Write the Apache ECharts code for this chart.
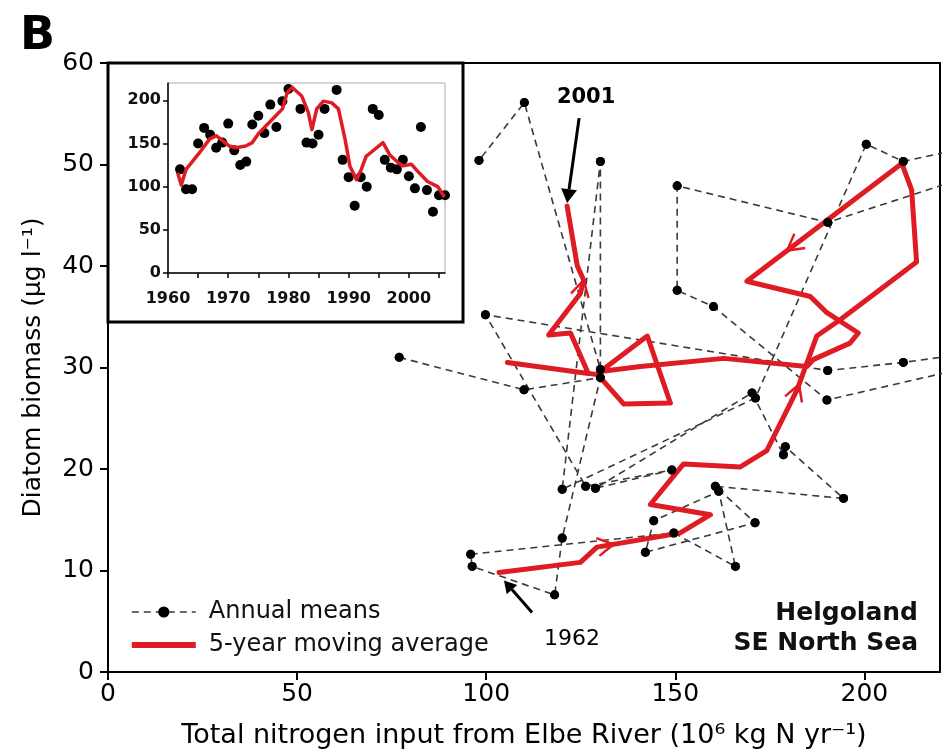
<!DOCTYPE html>
<html>
<head>
<meta charset="utf-8">
<script src="https://cdn.jsdelivr.net/npm/echarts@6/dist/echarts.min.js"></script>
<style>
html,body{margin:0;padding:0;background:#fff;}
#c{width:942px;height:754px;}
</style>
</head>
<body>
<div id="c"></div>
<script>
// ---- tick values ----
const xTicks = [0, 50, 100, 150, 200];
const yTicks = [0, 10, 20, 30, 40, 50, 60];
const insetXTicks = [1960, 1965, 1970, 1975, 1980, 1985, 1990, 1995, 2000, 2005];
const insetXLabels = [1960, 1970, 1980, 1990, 2000];
const insetYTicks = [0, 50, 100, 150, 200];

// ---- main panel: annual means (path order), N input vs diatom biomass ----
const annualN = [77.0, 110.0, 130.2, 120.1, 118.1, 96.3, 95.9, 149.6, 165.9, 161.5,
  144.3, 142.1, 171.1, 160.6, 194.5, 179.1, 178.6, 170.3, 128.9, 149.1,
  126.3, 99.8, 190.3, 210.3, 228, 232, 190.1, 160.1, 150.5, 150.5,
  190.3, 225, 230, 210.3, 200.5, 171.2, 120.1, 130.2, 130.2, 110.1, 98.1];
const annualDiatom = [31.0, 27.8, 29.0, 13.2, 7.6, 10.4, 11.6, 13.7, 10.4, 17.8,
  14.9, 11.8, 14.7, 18.3, 17.1, 22.2, 21.4, 27.5, 18.1, 19.9,
  18.3, 35.2, 29.7, 30.5, 31.4, 30.4, 26.8, 36.0, 37.6, 47.9,
  44.3, 48.5, 51.9, 50.3, 52.0, 27.0, 18.0, 50.3, 29.8, 56.1, 50.4];

// ---- main panel: 5-year moving average trajectory ----
const maN = [103.4, 124.9, 129.3, 151.3, 159.3, 143.4, 152.2, 167.2, 174.2, 182.2,
  187.4, 193.6, 213.8, 212.5, 209.9, 168.9, 185.7, 190.1, 198.4, 196.2,
  186.6, 184.8, 162.8, 140.8, 130.2, 142.6, 148.7, 136.4, 129.5, 105.6,
  127.0, 122.3, 116.5, 124.9, 125.8, 124.1, 121.4];
const maDiatom = [9.8, 10.8, 12.3, 13.7, 15.5, 16.5, 20.5, 20.2, 21.8, 27.8,
  33.1, 34.7, 40.4, 47.5, 50.1, 38.5, 37.0, 35.4, 33.4, 32.4,
  30.8, 30.1, 30.9, 30.1, 29.6, 33.1, 26.5, 26.4, 29.3, 30.5,
  29.4, 33.4, 33.2, 37.3, 38.6, 40.0, 45.9];

// ---- inset: N input per year ----
const insetYears = [1962, 1963, 1964, 1965, 1966, 1967, 1968, 1969, 1970, 1971,
  1972, 1973, 1974, 1975, 1976, 1977, 1978, 1979, 1980, 1982,
  1983, 1984, 1985, 1986, 1988, 1989, 1990, 1991, 1992, 1993,
  1994, 1995, 1996, 1997, 1998, 1999, 2000, 2001, 2002, 2003,
  2004, 2005, 2006];
const insetN = [120, 97, 97, 150, 168, 160, 145, 151, 173, 142,
  125, 129, 172, 182, 162, 195, 169, 199, 213, 190,
  151, 150, 160, 190, 212, 131, 111, 78, 111, 100,
  190, 183, 131, 122, 120, 131, 112, 98, 169, 96,
  71, 90, 90];
const insetMAYears = [1961.6, 1962.2, 1963.0, 1965.2, 1966.9, 1968.0, 1969.1, 1970.2, 1971.3, 1972.9,
  1974.0, 1975.1, 1976.2, 1977.9, 1979.0, 1979.8, 1980.6, 1982.2, 1983.3, 1983.9,
  1984.7, 1985.8, 1987.2, 1988.3, 1989.4, 1990.2, 1991.3, 1992.1, 1992.9, 1994.3,
  1995.7, 1996.8, 1998.2, 1999.0, 2000.4, 2001.7, 2003.1, 2004.8, 2005.9];
const insetMA = [116, 102, 120, 139, 155, 159, 153, 147, 145, 147,
  151, 162, 170, 182, 190, 209, 215, 205, 186, 166,
  190, 199, 197, 190, 155, 124, 108, 120, 135, 143,
  151, 137, 128, 124, 126, 116, 106, 100, 88];

// direction chevrons on the moving-average path: [segment start index, fraction]
const chevrons = [[2, 0.2], [9, 0.1], [14, 0.74], [33, 1.0]];

const FONT = 'DejaVu Sans';
const RED = '#df1b24';

const chart = echarts.init(document.getElementById('c'));

const option = {
  animation: false,
  textStyle: { fontFamily: FONT, color: '#000' },
  grid: [
    { left: 108, top: 63, width: 832, height: 610, show: true, borderColor: '#000', borderWidth: 2, backgroundColor: 'transparent', z: 0 },
    { left: 168, top: 83, width: 277, height: 190, show: true, borderColor: '#aaa', borderWidth: 1, backgroundColor: 'transparent', z: 11 }
  ],
  legend: {
    data: [
      { name: 'Annual means' },
      { name: '5-year moving average', icon: 'path://M0,0H64V6H0Z', itemStyle: { color: RED } }
    ],
    orient: 'vertical', left: 126, top: 595,
    itemWidth: 64, itemHeight: 14, itemGap: 9,
    symbolKeepAspect: true,
    lineStyle: { width: 'inherit' },
    textStyle: { fontSize: 24, color: '#111', fontFamily: FONT, padding: [0, 0, 0, 8] }
  },
  xAxis: [
    {
      gridIndex: 0, type: 'value', min: 0, max: 220,
      axisLine: { lineStyle: { color: '#000', width: 2 } },
      axisTick: { length: 8, lineStyle: { color: '#000', width: 2 }, customValues: xTicks },
      axisLabel: { fontSize: 25, color: '#000', margin: 10, customValues: xTicks },
      splitLine: { show: false },
      name: 'Total nitrogen input from Elbe River (10⁶ kg N yr⁻¹)',
      nameLocation: 'middle', nameGap: 50,
      nameTextStyle: { fontSize: 27, color: '#000' }
    },
    {
      gridIndex: 1, type: 'value', min: 1960, max: 2006, z: 12,
      axisLine: { lineStyle: { color: '#000', width: 1.5 } },
      axisTick: { length: 5, lineStyle: { color: '#000', width: 1.5 }, customValues: insetXTicks },
      axisLabel: { fontSize: 16, fontWeight: 'bold', color: '#111', margin: 18, customValues: insetXLabels, formatter: v => String(v) },
      splitLine: { show: false }
    }
  ],
  yAxis: [
    {
      gridIndex: 0, type: 'value', min: 0, max: 60, interval: 10,
      axisLine: { lineStyle: { color: '#000', width: 2 } },
      axisTick: { length: 8, lineStyle: { color: '#000', width: 2 }, customValues: yTicks },
      axisLabel: { fontSize: 25, color: '#000', margin: 14, customValues: yTicks },
      splitLine: { show: false },
      name: 'Diatom biomass (µg l⁻¹)', nameLocation: 'middle', nameGap: 62,
      nameTextStyle: { fontSize: 25, color: '#000' }
    },
    {
      gridIndex: 1, type: 'value', min: 0, max: 220, z: 12,
      axisLine: { lineStyle: { color: '#000', width: 1.5 } },
      axisTick: { length: 5, lineStyle: { color: '#000', width: 1.5 }, customValues: insetYTicks },
      axisLabel: { fontSize: 16, fontWeight: 'bold', color: '#111', margin: 7, customValues: insetYTicks, formatter: v => String(v) },
      splitLine: { show: false }
    }
  ],
  series: [
    {
      name: 'Annual means', type: 'line', xAxisIndex: 0, yAxisIndex: 0,
      data: annualN.map((x, i) => [x, annualDiatom[i]]),
      symbol: 'circle', symbolSize: 9, showSymbol: true,
      itemStyle: { color: '#000' },
      lineStyle: { color: '#3a3a3a', width: 1.6, type: [7, 5] },
      clip: true, z: 2
    },
    {
      name: '5-year moving average', type: 'line', xAxisIndex: 0, yAxisIndex: 0,
      data: maN.map((x, i) => [x, maDiatom[i]]),
      symbol: 'none', itemStyle: { color: RED },
      lineStyle: { color: RED, width: 5, join: 'round', cap: 'round' },
      clip: true, z: 3
    },
    {
      type: 'scatter', xAxisIndex: 0, yAxisIndex: 0,
      data: annualN.map((x, i) => [x, annualDiatom[i]]),
      symbol: 'circle', symbolSize: 9, itemStyle: { color: '#000', opacity: 1 },
      clip: true, z: 4, silent: true
    },
    {
      type: 'scatter', xAxisIndex: 1, yAxisIndex: 1,
      data: insetYears.map((y, i) => [y, insetN[i]]),
      symbol: 'circle', symbolSize: 10, itemStyle: { color: '#000', opacity: 1 },
      clip: false, z: 13
    },
    {
      type: 'line', xAxisIndex: 1, yAxisIndex: 1,
      data: insetMAYears.map((y, i) => [y, insetMA[i]]),
      symbol: 'none', lineStyle: { color: RED, width: 3.5, join: 'round' },
      clip: false, z: 14
    }
  ]
};

chart.setOption(option);

const toPx = p => chart.convertToPixel({ gridIndex: 0 }, p);

function arrow(tip, tail, headLen, headW) {
  const dx = tip[0] - tail[0], dy = tip[1] - tail[1];
  const L = Math.hypot(dx, dy);
  const ux = dx / L, uy = dy / L, nx = -uy, ny = ux;
  const base = [tip[0] - ux * headLen, tip[1] - uy * headLen];
  return [
    { type: 'line', z: 20, shape: { x1: tail[0], y1: tail[1], x2: base[0], y2: base[1] }, style: { stroke: '#000', lineWidth: 3 } },
    { type: 'polygon', z: 20, shape: { points: [tip, [base[0] + nx * headW, base[1] + ny * headW], [base[0] - nx * headW, base[1] - ny * headW]] }, style: { fill: '#000' } }
  ];
}

const graphics = [];
// inset frame (covers main plot)
graphics.push({ type: 'rect', z: 10, shape: { x: 108, y: 63, width: 355, height: 259 }, style: { fill: '#fff', stroke: '#000', lineWidth: 3 } });
// panel letter
graphics.push({ type: 'text', z: 20, style: { text: 'B', x: 20, y: 37, verticalAlign: 'middle', font: 'bold 46px "DejaVu Sans"', fill: '#000' } });

// 2001 annotation at end of moving average
const endPx = toPx([maN[maN.length - 1], maDiatom[maDiatom.length - 1]]);
const tip2001 = [endPx[0], endPx[1] - 3];
graphics.push(...arrow(tip2001, [tip2001[0] + 12, tip2001[1] - 85], 14, 8));
graphics.push({ type: 'text', z: 20, style: { text: '2001', x: tip2001[0] + 19, y: tip2001[1] - 106, align: 'center', verticalAlign: 'middle', font: 'bold 21px "DejaVu Sans"', fill: '#000' } });

// 1962 annotation at start of moving average
const startPx = toPx([maN[0], maDiatom[0]]);
const tip1962 = [startPx[0] + 5, startPx[1] + 8];
graphics.push(...arrow(tip1962, [tip1962[0] + 28, tip1962[1] + 32], 12, 7));
graphics.push({ type: 'text', z: 20, style: { text: '1962', x: tip1962[0] + 68, y: tip1962[1] + 59, align: 'center', verticalAlign: 'middle', font: '22px "DejaVu Sans"', fill: '#000' } });

// location label
graphics.push({ type: 'text', z: 20, style: { text: 'Helgoland', x: 918, y: 613, align: 'right', verticalAlign: 'middle', font: 'bold 25px "DejaVu Sans"', fill: '#111' } });
graphics.push({ type: 'text', z: 20, style: { text: 'SE North Sea', x: 918, y: 643, align: 'right', verticalAlign: 'middle', font: 'bold 25px "DejaVu Sans"', fill: '#111' } });

// direction chevrons
chevrons.forEach(([k, t]) => {
  const a = toPx([maN[k], maDiatom[k]]);
  const b = toPx([maN[k + 1], maDiatom[k + 1]]);
  const p = [a[0] + (b[0] - a[0]) * t, a[1] + (b[1] - a[1]) * t];
  const L = Math.hypot(b[0] - a[0], b[1] - a[1]);
  const ux = (b[0] - a[0]) / L, uy = (b[1] - a[1]) / L, nx = -uy, ny = ux;
  const back = 16, half = 9;
  graphics.push({
    type: 'polyline', z: 6,
    shape: { points: [[p[0] - ux * back + nx * half, p[1] - uy * back + ny * half], p, [p[0] - ux * back - nx * half, p[1] - uy * back - ny * half]] },
    style: { stroke: RED, lineWidth: 2.5, fill: null }
  });
});

chart.setOption({ graphic: { elements: graphics } });
</script>
</body>
</html>
